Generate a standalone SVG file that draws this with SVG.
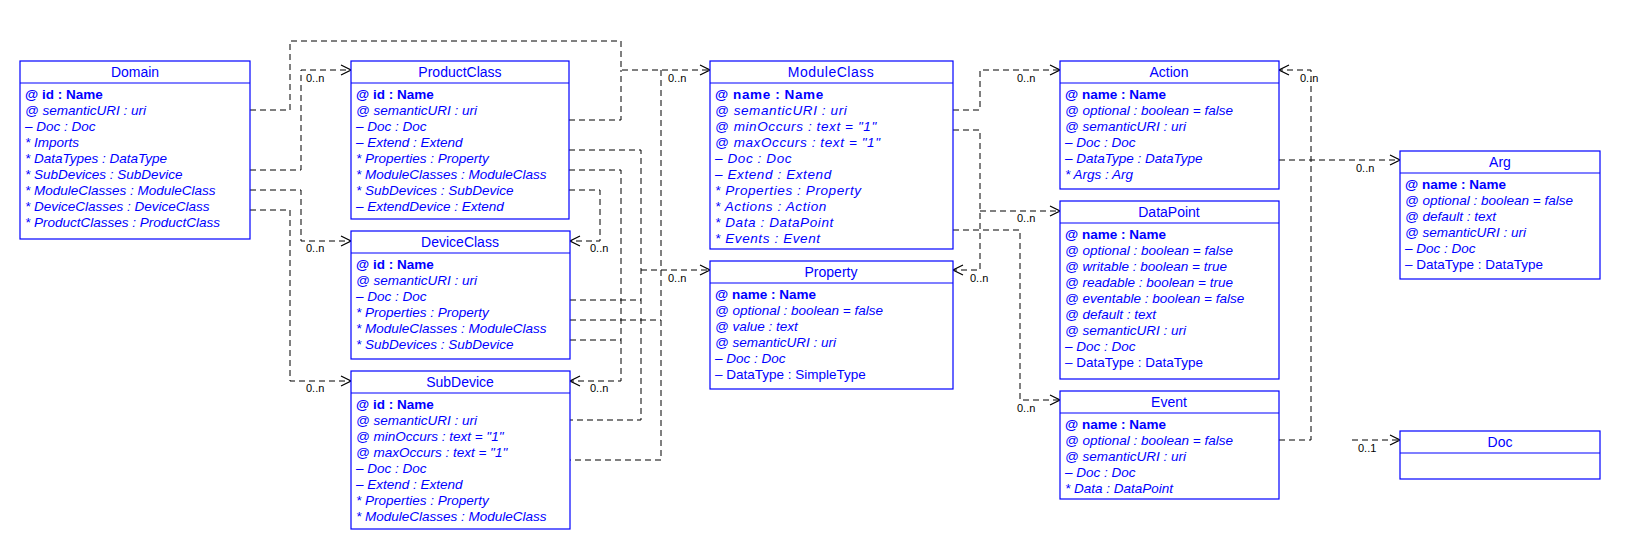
<svg xmlns="http://www.w3.org/2000/svg" width="1630" height="550" viewBox="0 0 1630 550">
<style>
.box{fill:#fff;stroke:#0000ff;stroke-width:1.2}
.sep{stroke:#0000ff;stroke-width:1.2}
.t{font-family:"Liberation Sans",Arial,sans-serif;font-size:14px;fill:#0000ff;text-anchor:middle}
.r{font-family:"Liberation Sans",Arial,sans-serif;font-size:13.5px;fill:#0000ff;font-style:italic}
.b{font-style:normal;font-weight:bold}
.n{font-style:normal}
.c{fill:none;stroke:#000;stroke-width:1;stroke-dasharray:6,4}
.l{font-family:"Liberation Sans",Arial,sans-serif;font-size:11px;fill:#000}
</style>
<defs>
<marker id="a" markerWidth="12" markerHeight="12" refX="11" refY="6" orient="auto" markerUnits="userSpaceOnUse">
<path d="M1,1 L11,6 L1,11" fill="none" stroke="#000" stroke-width="1.2"/>
</marker>
</defs>
<rect width="1630" height="550" fill="#fff"/>
<g id="connectors">
<path class="c" d="M250,110 H290 V41 H621 V70 H710" marker-end="url(#a)"/>
<path class="c" d="M569,120 H621 V70"/>
<path class="c" d="M250,170 H301 V70 H351" marker-end="url(#a)"/>
<path class="c" d="M250,190 H301 V241 H351" marker-end="url(#a)"/>
<path class="c" d="M250,210 H290 V381 H351" marker-end="url(#a)"/>
<path class="c" d="M569,190 H600 V241 H570" marker-end="url(#a)"/>
<path class="c" d="M569,170 H621 V381 H570" marker-end="url(#a)"/>
<path class="c" d="M570,340 H621"/>
<path class="c" d="M569,150 H641 V420 H570"/>
<path class="c" d="M570,300 H641"/>
<path class="c" d="M641,270 H710" marker-end="url(#a)"/>
<path class="c" d="M661,70 V460 H570"/>
<path class="c" d="M570,320 H661"/>
<path class="c" d="M953,110 H980 V70 H1060" marker-end="url(#a)"/>
<path class="c" d="M953,130 H980 V270 H953" marker-end="url(#a)"/>
<path class="c" d="M980,211 H1060" marker-end="url(#a)"/>
<path class="c" d="M953,230 H1020 V400 H1060" marker-end="url(#a)"/>
<path class="c" d="M1279,160 H1400" marker-end="url(#a)"/>
<path class="c" d="M1279,440 H1311 V70 H1279" marker-end="url(#a)"/>
<path class="c" d="M1352,440 H1400" marker-end="url(#a)"/>
<text class="l" x="306" y="82">0..n</text>
<text class="l" x="306" y="252">0..n</text>
<text class="l" x="306" y="392">0..n</text>
<text class="l" x="590" y="252">0..n</text>
<text class="l" x="590" y="392">0..n</text>
<text class="l" x="668" y="82">0..n</text>
<text class="l" x="668" y="282">0..n</text>
<text class="l" x="1017" y="82">0..n</text>
<text class="l" x="1017" y="222">0..n</text>
<text class="l" x="1017" y="412">0..n</text>
<text class="l" x="970" y="282">0..n</text>
<text class="l" x="1300" y="82">0..n</text>
<text class="l" x="1356" y="172">0..n</text>
<text class="l" x="1358" y="452">0..1</text>
</g>
<g id="Domain">
<rect class="box" x="20" y="61" width="230" height="178"/><line class="sep" x1="20" y1="83" x2="250" y2="83"/>
<text class="t" x="135" y="77">Domain</text>
<text class="r b" x="25" y="99">@ id : Name</text>
<text class="r" x="25" y="115">@ semanticURI : uri</text>
<text class="r" x="25" y="131">– Doc : Doc</text>
<text class="r" x="25" y="147">* Imports</text>
<text class="r" x="25" y="163">* DataTypes : DataType</text>
<text class="r" x="25" y="179">* SubDevices : SubDevice</text>
<text class="r" x="25" y="195">* ModuleClasses : ModuleClass</text>
<text class="r" x="25" y="211">* DeviceClasses : DeviceClass</text>
<text class="r" x="25" y="227">* ProductClasses : ProductClass</text>
</g>
<g id="ProductClass">
<rect class="box" x="351" y="61" width="218" height="158"/><line class="sep" x1="351" y1="83" x2="569" y2="83"/>
<text class="t" x="460" y="77">ProductClass</text>
<text class="r b" x="356" y="99">@ id : Name</text>
<text class="r" x="356" y="115">@ semanticURI : uri</text>
<text class="r" x="356" y="131">– Doc : Doc</text>
<text class="r" x="356" y="147">– Extend : Extend</text>
<text class="r" x="356" y="163">* Properties : Property</text>
<text class="r" x="356" y="179">* ModuleClasses : ModuleClass</text>
<text class="r" x="356" y="195">* SubDevices : SubDevice</text>
<text class="r" x="356" y="211">– ExtendDevice : Extend</text>
</g>
<g id="DeviceClass">
<rect class="box" x="351" y="231" width="219" height="128"/><line class="sep" x1="351" y1="253" x2="570" y2="253"/>
<text class="t" x="460" y="247">DeviceClass</text>
<text class="r b" x="356" y="269">@ id : Name</text>
<text class="r" x="356" y="285">@ semanticURI : uri</text>
<text class="r" x="356" y="301">– Doc : Doc</text>
<text class="r" x="356" y="317">* Properties : Property</text>
<text class="r" x="356" y="333">* ModuleClasses : ModuleClass</text>
<text class="r" x="356" y="349">* SubDevices : SubDevice</text>
</g>
<g id="SubDevice">
<rect class="box" x="351" y="371" width="219" height="158"/><line class="sep" x1="351" y1="393" x2="570" y2="393"/>
<text class="t" x="460" y="387">SubDevice</text>
<text class="r b" x="356" y="409">@ id : Name</text>
<text class="r" x="356" y="425">@ semanticURI : uri</text>
<text class="r" x="356" y="441">@ minOccurs : text = "1"</text>
<text class="r" x="356" y="457">@ maxOccurs : text = "1"</text>
<text class="r" x="356" y="473">– Doc : Doc</text>
<text class="r" x="356" y="489">– Extend : Extend</text>
<text class="r" x="356" y="505">* Properties : Property</text>
<text class="r" x="356" y="521">* ModuleClasses : ModuleClass</text>
</g>
<g id="ModuleClass">
<rect class="box" x="710" y="61" width="243" height="188"/><line class="sep" x1="710" y1="83" x2="953" y2="83"/>
<text class="t" x="831" y="77" letter-spacing="0.5">ModuleClass</text>
<g letter-spacing="0.6">
<text class="r b" x="715" y="99">@ name : Name</text>
<text class="r" x="715" y="115">@ semanticURI : uri</text>
<text class="r" x="715" y="131">@ minOccurs : text = "1"</text>
<text class="r" x="715" y="147">@ maxOccurs : text = "1"</text>
<text class="r" x="715" y="163">– Doc : Doc</text>
<text class="r" x="715" y="179">– Extend : Extend</text>
<text class="r" x="715" y="195">* Properties : Property</text>
<text class="r" x="715" y="211">* Actions : Action</text>
<text class="r" x="715" y="227">* Data : DataPoint</text>
<text class="r" x="715" y="243">* Events : Event</text>
</g>
</g>
<g id="Property">
<rect class="box" x="710" y="261" width="243" height="128"/><line class="sep" x1="710" y1="283" x2="953" y2="283"/>
<text class="t" x="831" y="277">Property</text>
<text class="r b" x="715" y="299">@ name : Name</text>
<text class="r" x="715" y="315">@ optional : boolean = false</text>
<text class="r" x="715" y="331">@ value : text</text>
<text class="r" x="715" y="347">@ semanticURI : uri</text>
<text class="r" x="715" y="363">– Doc : Doc</text>
<text class="r n" x="715" y="379">– DataType : SimpleType</text>
</g>
<g id="Action">
<rect class="box" x="1060" y="61" width="219" height="128"/><line class="sep" x1="1060" y1="83" x2="1279" y2="83"/>
<text class="t" x="1169" y="77">Action</text>
<text class="r b" x="1065" y="99">@ name : Name</text>
<text class="r" x="1065" y="115">@ optional : boolean = false</text>
<text class="r" x="1065" y="131">@ semanticURI : uri</text>
<text class="r" x="1065" y="147">– Doc : Doc</text>
<text class="r" x="1065" y="163">– DataType : DataType</text>
<text class="r" x="1065" y="179">* Args : Arg</text>
</g>
<g id="DataPoint">
<rect class="box" x="1060" y="201" width="219" height="178"/><line class="sep" x1="1060" y1="223" x2="1279" y2="223"/>
<text class="t" x="1169" y="217">DataPoint</text>
<text class="r b" x="1065" y="239">@ name : Name</text>
<text class="r" x="1065" y="255">@ optional : boolean = false</text>
<text class="r" x="1065" y="271">@ writable : boolean = true</text>
<text class="r" x="1065" y="287">@ readable : boolean = true</text>
<text class="r" x="1065" y="303">@ eventable : boolean = false</text>
<text class="r" x="1065" y="319">@ default : text</text>
<text class="r" x="1065" y="335">@ semanticURI : uri</text>
<text class="r" x="1065" y="351">– Doc : Doc</text>
<text class="r n" x="1065" y="367">– DataType : DataType</text>
</g>
<g id="Event">
<rect class="box" x="1060" y="391" width="219" height="108"/><line class="sep" x1="1060" y1="413" x2="1279" y2="413"/>
<text class="t" x="1169" y="407">Event</text>
<text class="r b" x="1065" y="429">@ name : Name</text>
<text class="r" x="1065" y="445">@ optional : boolean = false</text>
<text class="r" x="1065" y="461">@ semanticURI : uri</text>
<text class="r" x="1065" y="477">– Doc : Doc</text>
<text class="r" x="1065" y="493">* Data : DataPoint</text>
</g>
<g id="Arg">
<rect class="box" x="1400" y="151" width="200" height="128"/><line class="sep" x1="1400" y1="173" x2="1600" y2="173"/>
<text class="t" x="1500" y="167">Arg</text>
<text class="r b" x="1405" y="189">@ name : Name</text>
<text class="r" x="1405" y="205">@ optional : boolean = false</text>
<text class="r" x="1405" y="221">@ default : text</text>
<text class="r" x="1405" y="237">@ semanticURI : uri</text>
<text class="r" x="1405" y="253">– Doc : Doc</text>
<text class="r n" x="1405" y="269">– DataType : DataType</text>
</g>
<g id="Doc">
<rect class="box" x="1400" y="431" width="200" height="48"/><line class="sep" x1="1400" y1="453" x2="1600" y2="453"/>
<text class="t" x="1500" y="447">Doc</text>
</g>
</svg>
